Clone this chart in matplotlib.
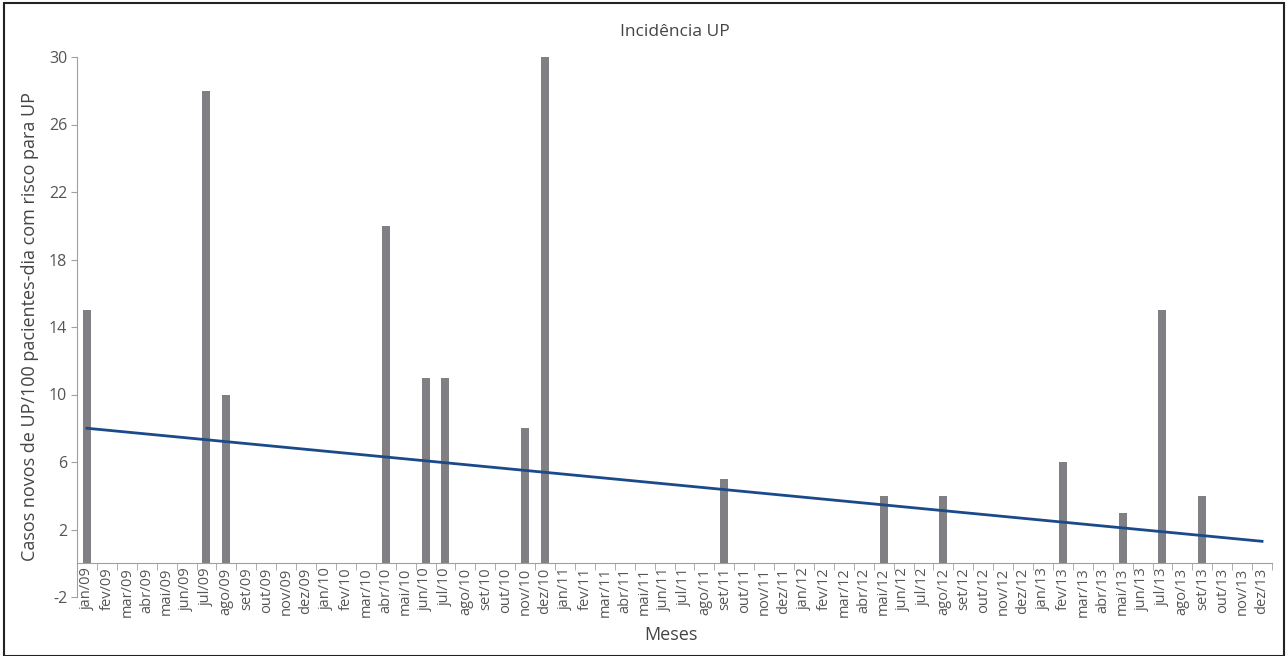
import matplotlib.pyplot as plt
import matplotlib.patches as patches
import numpy as np

plt.rcParams['font.family'] = ['Open Sans', 'DejaVu Sans']
plt.rcParams['axes.unicode_minus'] = False

# monthly labels jan/09 .. dez/13
months = ['jan', 'fev', 'mar', 'abr', 'mai', 'jun', 'jul', 'ago', 'set', 'out', 'nov', 'dez']
years = ['09', '10', '11', '12', '13']
labels = [f"{m}/{y}" for y in years for m in months]

# new cases per month (only months with cases)
cases = {
    'jan/09': 15, 'jul/09': 28, 'ago/09': 10,
    'abr/10': 20, 'jun/10': 11, 'jul/10': 11, 'nov/10': 8, 'dez/10': 30,
    'set/11': 5,
    'mai/12': 4, 'ago/12': 4,
    'fev/13': 6, 'mai/13': 3, 'jul/13': 15, 'set/13': 4,
}
values = [cases.get(lb, 0) for lb in labels]

# linear trend end points (jan/09 -> dez/13)
trend_start = 8.0
trend_end = 1.3

grey_txt = '#555555'
axis_col = '#a0a0a0'

fig = plt.figure(figsize=(12.88, 6.56), dpi=100)
ax = fig.add_axes([77 / 1288, 1 - 597 / 656, (1272 - 77) / 1288, (597 - 57) / 656])

x = np.arange(len(labels))
ax.bar(x, values, width=0.4, color='#808084', zorder=2)
ax.plot([x[0], x[-1]], [trend_start, trend_end], color='#1a4a8a', linewidth=2, zorder=3)

ax.set_xlim(-0.5, len(labels) - 0.5)
ax.set_ylim(-2, 30)
ax.set_yticks(np.arange(-2, 31, 4))

ax.spines['top'].set_visible(False)
ax.spines['right'].set_visible(False)
ax.spines['bottom'].set_position(('data', 0))
ax.spines['bottom'].set_color(axis_col)
ax.spines['left'].set_color(axis_col)

ax.set_xticks(x)
ax.set_xticklabels(labels, rotation=90, fontsize=10.5, color=grey_txt)
ax.set_xticks(np.arange(-0.5, len(labels), 1), minor=True)
ax.tick_params(axis='x', which='major', length=0, pad=3)
ax.tick_params(axis='x', which='minor', length=5, color=axis_col, direction='out')
ax.tick_params(axis='y', length=4, color=axis_col, labelcolor=grey_txt, labelsize=11.5, pad=3)

ax.set_title('Incidência UP', fontsize=12.5, color='#444444', pad=15)
ax.set_ylabel('Casos novos de UP/100 pacientes-dia com risco para UP', fontsize=13, color='#444444', labelpad=7)
fig.text(671 / 1288, 1 - 635 / 656, 'Meses', ha='center', va='center', fontsize=13, color='#444444')

fig.patches.append(patches.Rectangle((4 / 1288, 0), 1280 / 1288, 1 - 3 / 656,
                                     transform=fig.transFigure, fill=False,
                                     edgecolor='#222222', linewidth=1.5))

fig.savefig('out.png', dpi=100)
